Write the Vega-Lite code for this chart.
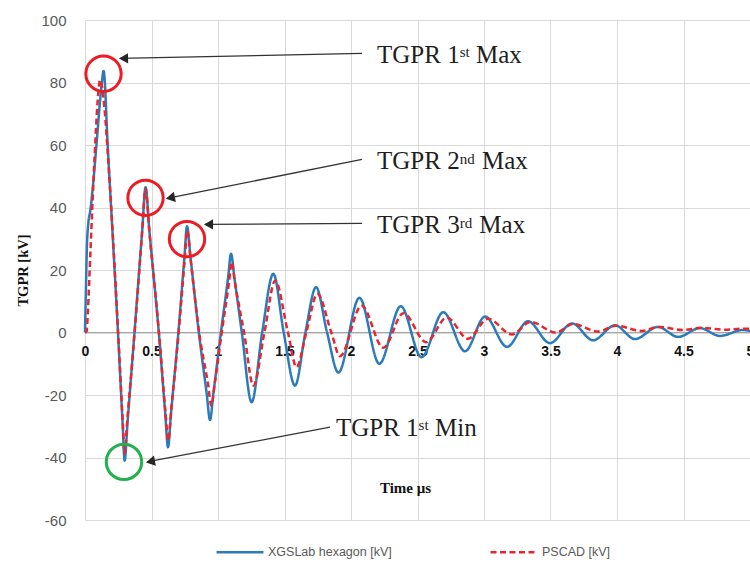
{
  "$schema": "https://vega.github.io/schema/vega-lite/v6.json",
  "autosize": "none",
  "width": 665,
  "height": 500,
  "padding": {"left": 85, "top": 20, "right": 0, "bottom": 43},
  "background": "white",
  "config": {
    "view": {"stroke": null},
    "legend": {
      "orient": "none", "legendX": 130, "legendY": 507, "direction": "horizontal",
      "symbolType": "stroke", "symbolSize": 2209, "symbolStrokeWidth": 2.5,
      "labelFont": "Liberation Sans", "labelFontSize": 12.5, "labelColor": "#595959",
      "columnPadding": 93, "labelOffset": 3, "labelLimit": 400
    }
  },
  "encoding": {
    "x": {
      "field": "t", "type": "quantitative",
      "scale": {"domain": [0, 5], "nice": false, "zero": false},
      "axis": {
        "orient": "bottom", "offset": -188,
        "values": [0, 0.5, 1, 1.5, 2, 2.5, 3, 3.5, 4, 4.5, 5],
        "labelExpr": "toString(datum.value)",
        "grid": true, "gridColor": "#d9d9d9", "gridWidth": 1,
        "domainColor": "#a6a6a6", "domainWidth": 1.2,
        "ticks": false, "tickSize": 0,
        "labelFont": "Liberation Sans", "labelFontSize": 14, "labelFontWeight": "bold",
        "labelColor": "#111111", "labelPadding": 12, "labelFlush": false, "labelOverlap": false,
        "title": "Time μs", "titleFont": "Liberation Serif", "titleFontSize": 15,
        "titleFontWeight": "bold", "titleColor": "#111111",
        "titleX": 320, "titleY": 155, "titleBaseline": "middle", "titleAlign": "center"
      }
    },
    "y": {
      "field": "v", "type": "quantitative",
      "scale": {"domain": [-60, 100], "nice": false},
      "axis": {
        "values": [-60, -40, -20, 0, 20, 40, 60, 80, 100],
        "labelExpr": "toString(datum.value)",
        "grid": true, "gridColor": "#d9d9d9", "gridWidth": 1,
        "domain": false, "ticks": false, "tickSize": 0,
        "labelFont": "Liberation Sans", "labelFontSize": 15, "labelColor": "#595959",
        "labelPadding": 19,
        "title": "TGPR [kV]", "titleFont": "Liberation Serif", "titleFontSize": 14.5,
        "titleFontWeight": "bold", "titleColor": "#111111", "titlePadding": 10
      }
    }
  },
  "layer": [
    {
      "data": {"values": [
        {"s":"XGSLab hexagon [kV]","t":0,"v":0},
        {"s":"XGSLab hexagon [kV]","t":0.006,"v":12},
        {"s":"XGSLab hexagon [kV]","t":0.014,"v":27},
        {"s":"XGSLab hexagon [kV]","t":0.025,"v":35},
        {"s":"XGSLab hexagon [kV]","t":0.04,"v":39},
        {"s":"XGSLab hexagon [kV]","t":0.06,"v":47},
        {"s":"XGSLab hexagon [kV]","t":0.088,"v":61},
        {"s":"XGSLab hexagon [kV]","t":0.115,"v":75},
        {"s":"XGSLab hexagon [kV]","t":0.128,"v":80.5},
        {"s":"XGSLab hexagon [kV]","t":0.14,"v":83.7},
        {"s":"XGSLab hexagon [kV]","t":0.172,"v":58.6},
        {"s":"XGSLab hexagon [kV]","t":0.248,"v":0},
        {"s":"XGSLab hexagon [kV]","t":0.2824,"v":-28.7},
        {"s":"XGSLab hexagon [kV]","t":0.298,"v":-41},
        {"s":"XGSLab hexagon [kV]","t":0.32,"v":-28.7},
        {"s":"XGSLab hexagon [kV]","t":0.372,"v":0},
        {"s":"XGSLab hexagon [kV]","t":0.43,"v":32.6},
        {"s":"XGSLab hexagon [kV]","t":0.455,"v":46.5},
        {"s":"XGSLab hexagon [kV]","t":0.484,"v":32.6},
        {"s":"XGSLab hexagon [kV]","t":0.555,"v":0},
        {"s":"XGSLab hexagon [kV]","t":0.603,"v":-25.7},
        {"s":"XGSLab hexagon [kV]","t":0.624,"v":-36.7},
        {"s":"XGSLab hexagon [kV]","t":0.647,"v":-25.7},
        {"s":"XGSLab hexagon [kV]","t":0.702,"v":0},
        {"s":"XGSLab hexagon [kV]","t":0.747,"v":23.8},
        {"s":"XGSLab hexagon [kV]","t":0.767,"v":34},
        {"s":"XGSLab hexagon [kV]","t":0.794,"v":23.8},
        {"s":"XGSLab hexagon [kV]","t":0.856,"v":0},
        {"s":"XGSLab hexagon [kV]","t":0.915,"v":-19.6},
        {"s":"XGSLab hexagon [kV]","t":0.94,"v":-28},
        {"s":"XGSLab hexagon [kV]","t":0.965,"v":-19.6},
        {"s":"XGSLab hexagon [kV]","t":1.022,"v":0},
        {"s":"XGSLab hexagon [kV]","t":1.076,"v":17.6},
        {"s":"XGSLab hexagon [kV]","t":1.098,"v":25.2},
        {"s":"XGSLab hexagon [kV]","t":1.123,"v":17.6},
        {"s":"XGSLab hexagon [kV]","t":1.179,"v":0},
        {"s":"XGSLab hexagon [kV]","t":1.253,"v":-22.3},
        {"s":"XGSLab hexagon [kV]","t":1.332,"v":0},
        {"s":"XGSLab hexagon [kV]","t":1.416,"v":18.8},
        {"s":"XGSLab hexagon [kV]","t":1.494,"v":0},
        {"s":"XGSLab hexagon [kV]","t":1.579,"v":-17},
        {"s":"XGSLab hexagon [kV]","t":1.657,"v":0},
        {"s":"XGSLab hexagon [kV]","t":1.737,"v":14.5},
        {"s":"XGSLab hexagon [kV]","t":1.82,"v":0},
        {"s":"XGSLab hexagon [kV]","t":1.905,"v":-12.8},
        {"s":"XGSLab hexagon [kV]","t":2.063,"v":11.1},
        {"s":"XGSLab hexagon [kV]","t":2.213,"v":-10},
        {"s":"XGSLab hexagon [kV]","t":2.374,"v":8.4},
        {"s":"XGSLab hexagon [kV]","t":2.53,"v":-7.9},
        {"s":"XGSLab hexagon [kV]","t":2.694,"v":6.5},
        {"s":"XGSLab hexagon [kV]","t":2.857,"v":-6},
        {"s":"XGSLab hexagon [kV]","t":3.008,"v":5.1},
        {"s":"XGSLab hexagon [kV]","t":3.173,"v":-4.6},
        {"s":"XGSLab hexagon [kV]","t":3.331,"v":3.6},
        {"s":"XGSLab hexagon [kV]","t":3.496,"v":-3.4},
        {"s":"XGSLab hexagon [kV]","t":3.662,"v":2.9},
        {"s":"XGSLab hexagon [kV]","t":3.82,"v":-2.5},
        {"s":"XGSLab hexagon [kV]","t":3.985,"v":2.3},
        {"s":"XGSLab hexagon [kV]","t":4.135,"v":-2.1},
        {"s":"XGSLab hexagon [kV]","t":4.308,"v":1.8},
        {"s":"XGSLab hexagon [kV]","t":4.459,"v":-1.4},
        {"s":"XGSLab hexagon [kV]","t":4.624,"v":1.4},
        {"s":"XGSLab hexagon [kV]","t":4.774,"v":-1.1},
        {"s":"XGSLab hexagon [kV]","t":4.947,"v":0.8},
        {"s":"XGSLab hexagon [kV]","t":5,"v":0.5},
        {"s":"PSCAD [kV]","t":0,"v":0},
        {"s":"PSCAD [kV]","t":0.012,"v":0.3},
        {"s":"PSCAD [kV]","t":0.022,"v":7},
        {"s":"PSCAD [kV]","t":0.04,"v":25},
        {"s":"PSCAD [kV]","t":0.073,"v":57},
        {"s":"PSCAD [kV]","t":0.095,"v":74},
        {"s":"PSCAD [kV]","t":0.113,"v":80.8},
        {"s":"PSCAD [kV]","t":0.13,"v":78},
        {"s":"PSCAD [kV]","t":0.15,"v":70},
        {"s":"PSCAD [kV]","t":0.175,"v":55},
        {"s":"PSCAD [kV]","t":0.249,"v":0},
        {"s":"PSCAD [kV]","t":0.283,"v":-28},
        {"s":"PSCAD [kV]","t":0.297,"v":-38.7},
        {"s":"PSCAD [kV]","t":0.318,"v":-28},
        {"s":"PSCAD [kV]","t":0.373,"v":0},
        {"s":"PSCAD [kV]","t":0.43,"v":32.3},
        {"s":"PSCAD [kV]","t":0.455,"v":46},
        {"s":"PSCAD [kV]","t":0.484,"v":32.3},
        {"s":"PSCAD [kV]","t":0.556,"v":0},
        {"s":"PSCAD [kV]","t":0.604,"v":-25},
        {"s":"PSCAD [kV]","t":0.626,"v":-34.6},
        {"s":"PSCAD [kV]","t":0.648,"v":-25},
        {"s":"PSCAD [kV]","t":0.704,"v":0},
        {"s":"PSCAD [kV]","t":0.749,"v":23},
        {"s":"PSCAD [kV]","t":0.769,"v":32.6},
        {"s":"PSCAD [kV]","t":0.795,"v":23},
        {"s":"PSCAD [kV]","t":0.858,"v":0},
        {"s":"PSCAD [kV]","t":0.925,"v":-16.5},
        {"s":"PSCAD [kV]","t":0.95,"v":-23.4},
        {"s":"PSCAD [kV]","t":0.975,"v":-16.5},
        {"s":"PSCAD [kV]","t":1.028,"v":0},
        {"s":"PSCAD [kV]","t":1.082,"v":15.8},
        {"s":"PSCAD [kV]","t":1.103,"v":22.5},
        {"s":"PSCAD [kV]","t":1.128,"v":15.8},
        {"s":"PSCAD [kV]","t":1.196,"v":0},
        {"s":"PSCAD [kV]","t":1.266,"v":-17},
        {"s":"PSCAD [kV]","t":1.349,"v":0},
        {"s":"PSCAD [kV]","t":1.43,"v":16.6},
        {"s":"PSCAD [kV]","t":1.526,"v":0},
        {"s":"PSCAD [kV]","t":1.59,"v":-11.1},
        {"s":"PSCAD [kV]","t":1.664,"v":0},
        {"s":"PSCAD [kV]","t":1.747,"v":12.4},
        {"s":"PSCAD [kV]","t":1.852,"v":0},
        {"s":"PSCAD [kV]","t":1.917,"v":-7.6},
        {"s":"PSCAD [kV]","t":2.08,"v":8.6},
        {"s":"PSCAD [kV]","t":2.243,"v":-4.9},
        {"s":"PSCAD [kV]","t":2.394,"v":6.2},
        {"s":"PSCAD [kV]","t":2.565,"v":-3.1},
        {"s":"PSCAD [kV]","t":2.72,"v":4.8},
        {"s":"PSCAD [kV]","t":2.88,"v":-2},
        {"s":"PSCAD [kV]","t":3.03,"v":4.4},
        {"s":"PSCAD [kV]","t":3.21,"v":-0.6},
        {"s":"PSCAD [kV]","t":3.35,"v":3.4},
        {"s":"PSCAD [kV]","t":3.54,"v":0},
        {"s":"PSCAD [kV]","t":3.67,"v":2.7},
        {"s":"PSCAD [kV]","t":3.86,"v":0.3},
        {"s":"PSCAD [kV]","t":3.99,"v":2.2},
        {"s":"PSCAD [kV]","t":4.19,"v":0.5},
        {"s":"PSCAD [kV]","t":4.31,"v":1.8},
        {"s":"PSCAD [kV]","t":4.5,"v":0.8},
        {"s":"PSCAD [kV]","t":4.63,"v":1.5},
        {"s":"PSCAD [kV]","t":4.81,"v":0.9},
        {"s":"PSCAD [kV]","t":4.95,"v":1.2},
        {"s":"PSCAD [kV]","t":5,"v":1.15}
      ]},
      "layer": [
        {
          "transform": [{"filter": "datum.s === 'XGSLab hexagon [kV]'"}],
          "mark": {"type": "line", "interpolate": "monotone", "strokeWidth": 2.5},
          "encoding": {
            "color": {"field": "s", "type": "nominal", "title": null,
              "scale": {"domain": ["XGSLab hexagon [kV]", "PSCAD [kV]"], "range": ["#2b7bba", "#e8262d"]}},
            "strokeDash": {"field": "s", "type": "nominal", "title": null,
              "scale": {"domain": ["XGSLab hexagon [kV]", "PSCAD [kV]"], "range": [[1, 0], [6, 3.5]]}}
          }
        },
        {
          "transform": [{"filter": "datum.s === 'PSCAD [kV]'"}],
          "mark": {"type": "line", "interpolate": "monotone", "strokeWidth": 2.5},
          "encoding": {
            "color": {"field": "s", "type": "nominal", "title": null,
              "scale": {"domain": ["XGSLab hexagon [kV]", "PSCAD [kV]"], "range": ["#2b7bba", "#e8262d"]}},
            "strokeDash": {"field": "s", "type": "nominal", "title": null,
              "scale": {"domain": ["XGSLab hexagon [kV]", "PSCAD [kV]"], "range": [[1, 0], [6, 3.5]]}}
          }
        }
      ]
    },
    {
      "data": {"values": [
        {"t": 0.139, "v": 82.8, "ring": "max"},
        {"t": 0.455, "v": 43.1, "ring": "max"},
        {"t": 0.767, "v": 29.9, "ring": "max"},
        {"t": 0.293, "v": -41.4, "ring": "min"}
      ]},
      "mark": {"type": "point", "shape": "circle", "filled": false, "size": 1250, "strokeWidth": 3, "opacity": 1},
      "encoding": {
        "stroke": {"field": "ring", "type": "nominal", "legend": null,
          "scale": {"domain": ["max", "min"], "range": ["#ed1c24", "#22b14c"]}}
      }
    },
    {
      "data": {"values": [
        {"t": 2.083, "v": 89.3, "t2": 0.263, "v2": 87.7},
        {"t": 2.083, "v": 55.4, "t2": 0.617, "v2": 42.9},
        {"t": 2.083, "v": 34.9, "t2": 0.902, "v2": 34.6},
        {"t": 1.842, "v": -30.3, "t2": 0.466, "v2": -41.4}
      ]},
      "mark": {"type": "rule", "color": "#333333", "strokeWidth": 1.3},
      "encoding": {
        "x2": {"field": "t2"},
        "y2": {"field": "v2"}
      }
    },
    {
      "data": {"values": [
        {"t": 0.301, "v": 87.7, "ang": 268.8},
        {"t": 0.653, "v": 43.2, "ang": 258.7},
        {"t": 0.940, "v": 34.6, "ang": 270},
        {"t": 0.503, "v": -41.2, "ang": 259}
      ]},
      "mark": {"type": "point", "shape": "triangle", "filled": true, "size": 110, "color": "#262626", "opacity": 1, "strokeWidth": 0},
      "encoding": {
        "angle": {"field": "ang", "type": "quantitative", "scale": null}
      }
    },
    {
      "data": {"values": [
        {"t": 2.1955, "v": 86.4, "txt": "TGPR 1", "part": "main"},
        {"t": 2.817, "v": 88.2, "txt": "st", "part": "sup"},
        {"t": 2.94, "v": 86.4, "txt": "Max", "part": "main"},
        {"t": 2.1955, "v": 52.2, "txt": "TGPR 2", "part": "main"},
        {"t": 2.817, "v": 54.0, "txt": "nd", "part": "sup"},
        {"t": 2.985, "v": 52.2, "txt": "Max", "part": "main"},
        {"t": 2.1955, "v": 31.7, "txt": "TGPR 3", "part": "main"},
        {"t": 2.817, "v": 33.5, "txt": "rd", "part": "sup"},
        {"t": 2.965, "v": 31.7, "txt": "Max", "part": "main"},
        {"t": 1.887, "v": -33.0, "txt": "TGPR 1", "part": "main"},
        {"t": 2.508, "v": -31.2, "txt": "st", "part": "sup"},
        {"t": 2.632, "v": -33.0, "txt": "Min", "part": "main"}
      ]},
      "mark": {"type": "text", "align": "left", "baseline": "alphabetic", "font": "Liberation Serif", "color": "#1e1e1e"},
      "encoding": {
        "text": {"field": "txt"},
        "size": {"field": "part", "type": "nominal", "legend": null,
          "scale": {"domain": ["main", "sup"], "range": [25, 15]}}
      }
    }
  ]
}
